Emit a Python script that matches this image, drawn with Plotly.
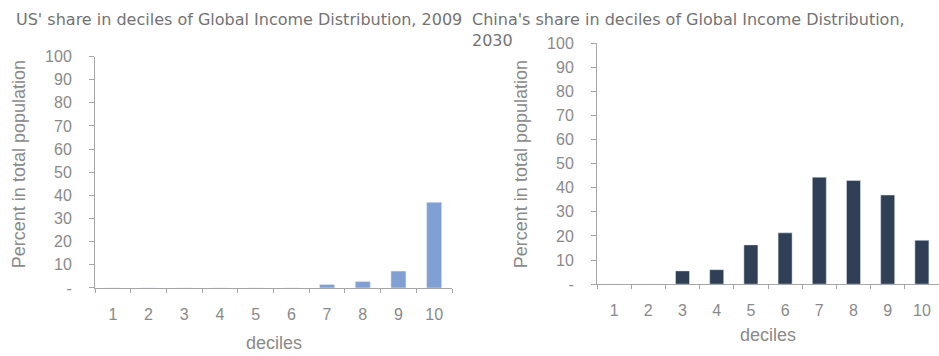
import plotly.graph_objects as go

# Data
deciles = ["1", "2", "3", "4", "5", "6", "7", "8", "9", "10"]
us_share_2009 = [0, 0, 0, 0, 0, 0, 1.5, 2.8, 7.3, 37]
china_share_2030 = [0, 0, 5.5, 6, 16.3, 21.3, 44.4, 43, 37, 18.2]
y_tick_vals = [0, 10, 20, 30, 40, 50, 60, 70, 80, 90, 100]
y_tick_text = ["-", "10", "20", "30", "40", "50", "60", "70", "80", "90", "100"]

W, H = 939, 356
TEXT_GREY = "#8a8a8a"
TITLE_GREY = "#737373"
AXIS_GREY = "#a6a6a6"
US_BLUE = "#809fd2"
CHINA_NAVY = "#2f3f56"


def px_x(p):
    return p / W


def px_y(p):
    return (H - p) / H


fig = go.Figure()
fig.add_trace(go.Bar(x=deciles, y=us_share_2009, marker_color=US_BLUE,
                     width=0.42, xaxis="x", yaxis="y", showlegend=False))
fig.add_trace(go.Bar(x=deciles, y=china_share_2030, marker_color=CHINA_NAVY,
                     width=0.41, xaxis="x2", yaxis="y2", showlegend=False))

tick_font = dict(family="Liberation Sans", size=16, color=TEXT_GREY)

xcommon = dict(type="category", range=[-0.5, 9.5], showgrid=False, showline=True,
               linecolor=AXIS_GREY, linewidth=1, ticks="outside", tickson="boundaries",
               ticklen=4, tickcolor=AXIS_GREY, tickfont=tick_font, ticklabelstandoff=12,
               zeroline=False, fixedrange=True)
ycommon = dict(range=[0, 100], tickmode="array", tickvals=y_tick_vals, ticktext=y_tick_text,
               showgrid=False, showline=True, linecolor=AXIS_GREY, linewidth=1,
               ticks="outside", ticklen=5, tickcolor=AXIS_GREY, tickfont=tick_font,
               ticklabelstandoff=14, zeroline=False, fixedrange=True)

fig.update_layout(
    width=W, height=H,
    margin=dict(l=0, r=0, t=0, b=0),
    paper_bgcolor="white", plot_bgcolor="white",
    xaxis=dict(domain=[px_x(95), px_x(452)], anchor="y", **xcommon),
    yaxis=dict(domain=[px_y(294), px_y(51)], anchor="x", **ycommon),
    xaxis2=dict(domain=[px_x(597), 1.0], anchor="y2", **xcommon),
    yaxis2=dict(domain=[px_y(290), px_y(37)], anchor="x2", **ycommon),
)

title_font = dict(family="DejaVu Sans", size=16, color=TITLE_GREY)
label_font = dict(family="Liberation Sans", size=18, color=TEXT_GREY)

annotations = [
    dict(text="US' share in deciles of Global Income Distribution, 2009",
         x=px_x(14), y=px_y(12), xanchor="left", yanchor="middle", font=title_font),
    dict(text="China's share in deciles of Global Income Distribution,",
         x=px_x(470), y=px_y(12), xanchor="left", yanchor="middle", font=title_font),
    dict(text="2030", x=px_x(470), y=px_y(34), xanchor="left", yanchor="middle",
         font=title_font),
    dict(text="Percent in total population", textangle=-90,
         x=px_x(19), y=px_y(164), xanchor="center", yanchor="middle", font=label_font),
    dict(text="Percent in total population", textangle=-90,
         x=px_x(521), y=px_y(164), xanchor="center", yanchor="middle", font=label_font),
    dict(text="deciles", x=px_x(274), y=px_y(352), xanchor="center", yanchor="middle",
         font=label_font),
    dict(text="deciles", x=px_x(768), y=px_y(343), xanchor="center", yanchor="middle",
         font=label_font),
]
for a in annotations:
    a.update(xref="paper", yref="paper", showarrow=False)
fig.update_layout(annotations=annotations)

fig.write_html("out.html")
